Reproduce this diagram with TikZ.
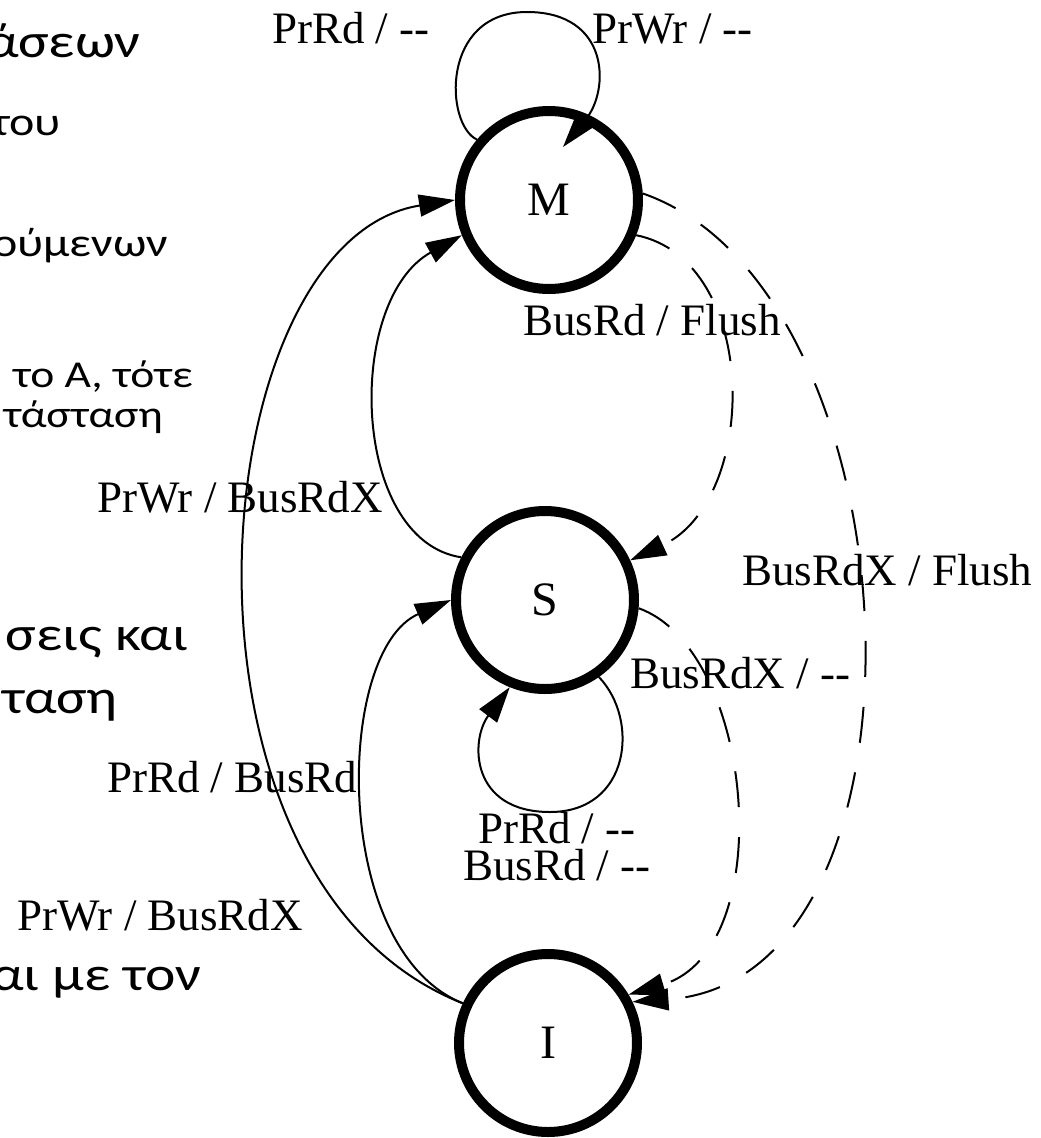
\documentclass[tikz,border=0pt]{standalone}
\usepackage{fontspec}
\newfontfamily\labelfont{Liberation Serif}
\newfontfamily\greekfont[FakeStretch=1.2]{Carlito}
\usetikzlibrary{arrows.meta,calc}
\tikzset{
  state/.style={circle, draw, line width=10pt, minimum size=178pt, inner sep=0pt,
    font=\labelfont\fontsize{48}{50}\selectfont},
  trans/.style={line width=2pt, -{Triangle[length=36pt,width=22pt]}},
  bustrans/.style={trans, dash pattern=on 36pt off 30pt},
  lbl/.style={anchor=base west, inner sep=0pt, font=\labelfont\fontsize{45}{50}\selectfont},
  greek/.style={anchor=base east, inner sep=0pt, font=\greekfont\fontsize{48}{56}\selectfont}
}
\begin{document}
\begin{tikzpicture}[x=1pt, y=-1pt]
      \useasboundingbox (0,0) rectangle (1041,1138);
      \clip (0,0) rectangle (1041,1138);
      % slide text, cut at the left edge
      \node[greek, font=\greekfont\fontsize{48}{56}\selectfont] (t1) at (141,57) {άσεων};
      \node[greek, font=\greekfont\fontsize{40}{48}\selectfont] (t2) at (61,135) {του};
      \node[greek, font=\greekfont\fontsize{40}{48}\selectfont] (t3) at (168,256) {ούμενων};
      \node[greek, font=\greekfont\fontsize{38}{44}\selectfont] (t4) at (193,387) {το Α, τότε};
      \node[greek, font=\greekfont\fontsize{38}{44}\selectfont] (t5) at (163,427) {τάσταση};
      \node[greek] (t6) at (188,650) {σεις και};
      \node[greek] (t7) at (118,713) {ταση};
      \node[greek] (t8) at (202,990) {αι με τον};
      % states
      \node[state] (M) at (549,200) {M};
      \node[state] (S) at (545,600) {S};
      \node[state] (I) at (548,1043) {I};
      % processor transitions
      \draw[trans] (M.140) .. controls (445,125) and (440,12) .. (527,12)
        .. controls (610,12) and (610,90) .. ($(M.center)+(14,-53)$);
      \draw[trans] (I.155) .. controls (150,880) and (200,240) .. (M.180);
      \draw[trans] (I.155) .. controls (330,950) and (335,650) .. (S.180);
      \draw[trans] (S.153) .. controls (350,540) and (345,300) .. (M.202);
      \draw[trans] (S.-55) .. controls (640,720) and (630,812) .. (550,812)
        .. controls (470,812) and (470,740) .. (S.-112);
      % bus transitions
      \begin{scope}
        \draw[bustrans] (M.-22) .. controls (760,260) and (760,500) .. (S.25);
        \draw[bustrans] (M.4) .. controls (920,290) and (950,980) .. (I.26);
        \draw[bustrans] (S.-5) .. controls (755,650) and (780,950) .. (I.31);
      \end{scope}
      % labels
      \node[lbl] (lMrd) at (272,43) {PrRd / --};
      \node[lbl] (lMwr) at (592,43) {PrWr / --};
      \node[lbl] (lMS) at (523,335) {BusRd / Flush};
      \node[lbl] (lSM) at (97,512) {PrWr / BusRdX};
      \node[lbl] (lMI) at (742,585) {BusRdX / Flush};
      \node[lbl] (lSI) at (630,688) {BusRdX / --};
      \node[lbl] (lIS) at (107,792) {PrRd / BusRd};
      \node[lbl] (lSrd) at (478,843) {PrRd / --};
      \node[lbl] (lSbus) at (463,880) {BusRd / --};
      \node[lbl] (lIM) at (17,930) {PrWr / BusRdX};
    \end{tikzpicture}
\end{document}
